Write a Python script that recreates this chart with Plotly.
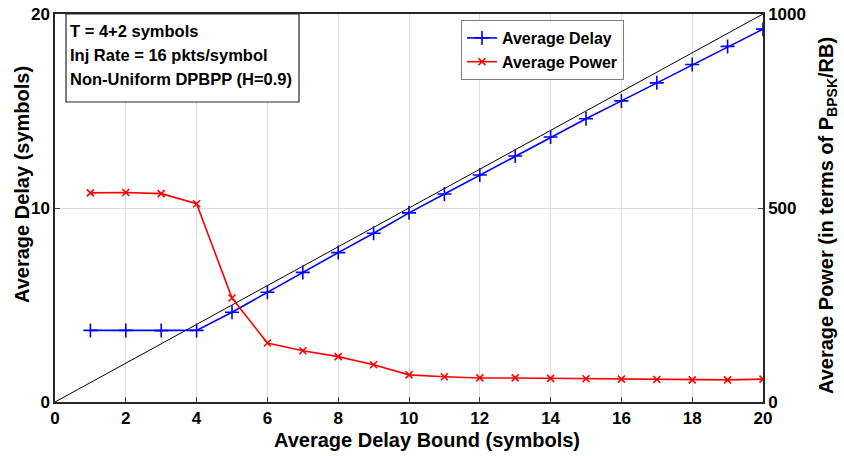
import plotly.graph_objects as go

delay_bound = list(range(1, 21))
avg_delay = [3.69, 3.69, 3.68, 3.69, 4.63, 5.66, 6.68, 7.7, 8.7, 9.75,
             10.72, 11.7, 12.68, 13.66, 14.6, 15.52, 16.45, 17.4, 18.33, 19.22]
avg_power = [539, 540, 537, 511, 268, 152, 132, 117, 96, 70,
             65, 62, 62, 61, 60, 59, 58, 57, 57, 59]
diag_x = [0, 20]
diag_y = [0, 20]

x_ticks = list(range(0, 21, 2))
left_ticks = [0, 10, 20]
right_ticks = [0, 500, 1000]

FONT = "Liberation Sans, Arial, sans-serif"
L, R, T, B = 55, 81, 14, 54
W, H = 844, 456
PW, PH = W - L - R, H - T - B


def px(xp):
    return (xp - L) / PW


def py(yp):
    return (H - B - yp) / PH


fig = go.Figure()
fig.add_trace(go.Scatter(x=diag_x, y=diag_y, mode="lines",
                         line=dict(color="black", width=1), showlegend=False,
                         hoverinfo="skip"))
fig.add_trace(go.Scatter(x=delay_bound, y=avg_delay, mode="lines+markers",
                         name="Average Delay",
                         line=dict(color="#0000ff", width=1.6),
                         marker=dict(symbol="cross-thin", size=10,
                                     line=dict(color="#0000ff", width=1.6))))
fig.add_trace(go.Scatter(x=delay_bound, y=avg_power, mode="lines+markers",
                         name="Average Power", yaxis="y2",
                         line=dict(color="#ff0000", width=1.6),
                         marker=dict(symbol="x-thin", size=7,
                                     line=dict(color="#ff0000", width=1.6))))

tickfont = dict(family=FONT, size=17, color="black", weight="bold")
titlefont = dict(family=FONT, size=20, color="black", weight="bold")

fig.update_layout(
    width=W, height=H,
    margin=dict(l=L, r=R, t=T, b=B, autoexpand=False),
    paper_bgcolor="white", plot_bgcolor="white",
    font=dict(family=FONT, color="black"),
    xaxis=dict(range=[0, 20], tickvals=x_ticks, ticks="inside", ticklen=5,
               tickfont=tickfont, showgrid=True, gridcolor="#dcdcdc",
               gridwidth=1, zeroline=False, showline=True, linecolor="#262626",
               linewidth=1.5, mirror=True, automargin=False),
    yaxis=dict(range=[0, 20], tickvals=left_ticks, ticks="inside", ticklen=5,
               tickfont=tickfont, showgrid=True, gridcolor="#dcdcdc",
               zeroline=False, showline=True, linecolor="#262626",
               linewidth=1.5, automargin=False),
    yaxis2=dict(range=[0, 1000], tickvals=right_ticks, ticks="inside",
                ticklen=5, tickfont=tickfont, overlaying="y", side="right",
                showgrid=False, zeroline=False, showline=True,
                linecolor="#262626", linewidth=1.5, automargin=False),
    legend=dict(x=px(461), y=py(20), xanchor="left", yanchor="top",
                bgcolor="white", bordercolor="#7f7f7f", borderwidth=1,
                font=dict(family=FONT, size=16, color="black", weight="bold"),
                tracegroupgap=0, itemwidth=30),
    showlegend=True,
)

# Axis titles
fig.add_annotation(xref="paper", yref="paper", x=px(427), y=py(440),
                   text="Average Delay Bound (symbols)", showarrow=False,
                   xanchor="center", yanchor="middle", font=titlefont)
fig.add_annotation(xref="paper", yref="paper", x=px(22), y=py(185),
                   text="Average Delay (symbols)", showarrow=False,
                   textangle=-90, xanchor="center", yanchor="middle",
                   font=titlefont)
fig.add_annotation(xref="paper", yref="paper", x=px(828), y=py(215),
                   text="Average Power (in terms of P<sub>BPSK</sub>/RB)",
                   showarrow=False, textangle=-90, xanchor="center",
                   yanchor="middle", font=titlefont)

# Text box
fig.add_shape(type="rect", xref="paper", yref="paper",
              x0=px(66), x1=px(299), y0=py(102), y1=py(14),
              line=dict(color="#262626", width=1.2), fillcolor="white",
              layer="above")
lines = ["T = 4+2 symbols", "Inj Rate = 16 pkts/symbol",
         "Non-Uniform DPBPP (H=0.9)"]
for i, t in enumerate(lines):
    ypix = 31 + 24 * i
    fig.add_annotation(xref="paper", yref="paper", x=px(68),
                       y=py(ypix), text=t, showarrow=False,
                       xanchor="left", yanchor="middle",
                       font=dict(family=FONT, size=16.5, color="black",
                                 weight="bold"))

fig.write_html(
    "out.html",
    config={"displayModeBar": False},
    post_script="document.body.style.margin='0';"
                "document.body.style.overflow='hidden';",
)
